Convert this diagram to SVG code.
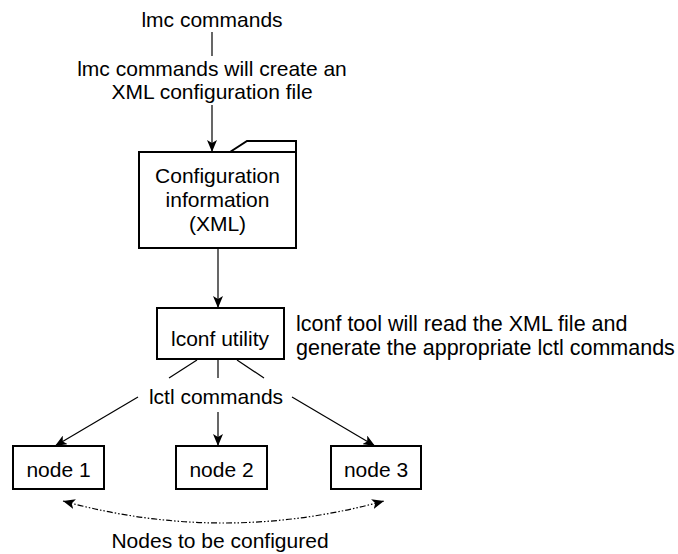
<svg xmlns="http://www.w3.org/2000/svg" width="678" height="554" viewBox="0 0 678 554">
<style>
text{font-family:"Liberation Sans",Arial,sans-serif;font-size:21px;fill:#000}
.c{text-anchor:middle}
.note{font-size:21.5px}
.box{fill:#fff;stroke:#000;stroke-width:2}
.ln{fill:none;stroke:#000;stroke-width:1.2}
.dd{fill:none;stroke:#000;stroke-width:1.2;stroke-dasharray:6 2 1.5 2 1.5 2}
</style>
<defs>
<marker id="ah" viewBox="0 0 12 10" refX="12" refY="5" markerWidth="12" markerHeight="10" markerUnits="userSpaceOnUse" orient="auto-start-reverse">
<path d="M0,0 L12,5 L0,10 L3,5 Z" fill="#000"/>
</marker>
</defs>
<rect width="678" height="554" fill="#fff"/>
<g id="connectors">
<line class="ln" x1="212" y1="32" x2="212" y2="56"/>
<line class="ln" x1="212" y1="105" x2="212" y2="152" marker-end="url(#ah)"/>
<line class="ln" x1="218" y1="248" x2="218" y2="308" marker-end="url(#ah)"/>
<line class="ln" x1="197" y1="360" x2="169" y2="378"/>
<line class="ln" x1="218" y1="360" x2="218" y2="378"/>
<line class="ln" x1="237" y1="360" x2="264" y2="378"/>
<line class="ln" x1="138" y1="397" x2="55" y2="446" marker-end="url(#ah)"/>
<line class="ln" x1="218" y1="412" x2="218" y2="446" marker-end="url(#ah)"/>
<line class="ln" x1="292" y1="397" x2="375" y2="446" marker-end="url(#ah)"/>
<path class="dd" d="M63,501 Q223,545 384,501" marker-start="url(#ah)" marker-end="url(#ah)"/>
</g>
<g id="lmc">
<text class="c" x="212" y="27">lmc commands</text>
</g>
<g id="lmc-label">
<text class="c" x="212" y="76">lmc commands will create an</text>
<text class="c" x="212" y="99">XML configuration file</text>
</g>
<g id="config">
<path class="box" d="M230,152 L247,141 L296,141 L296,152"/>
<rect class="box" x="139" y="152" width="157" height="96"/>
<text class="c" x="217.5" y="183">Configuration</text>
<text class="c" x="217.5" y="207">information</text>
<text class="c" x="217.5" y="231">(XML)</text>
</g>
<g id="lconf">
<rect class="box" x="157" y="308" width="127" height="51"/>
<text class="c" x="220" y="346">lconf utility</text>
</g>
<g id="lconf-note">
<text class="note" x="296" y="331">lconf tool will read the XML file and</text>
<text class="note" x="296" y="355">generate the appropriate lctl commands</text>
</g>
<g id="lctl">
<text class="c" x="216" y="404">lctl commands</text>
</g>
<g id="node1">
<rect class="box" x="13" y="446" width="91" height="43"/>
<text class="c" x="58.5" y="477">node 1</text>
</g>
<g id="node2">
<rect class="box" x="176" y="446" width="91" height="43"/>
<text class="c" x="221.5" y="477">node 2</text>
</g>
<g id="node3">
<rect class="box" x="331" y="446" width="90" height="43"/>
<text class="c" x="376" y="477">node 3</text>
</g>
<g id="nodes-label">
<text class="c" x="220" y="548">Nodes to be configured</text>
</g>
</svg>
